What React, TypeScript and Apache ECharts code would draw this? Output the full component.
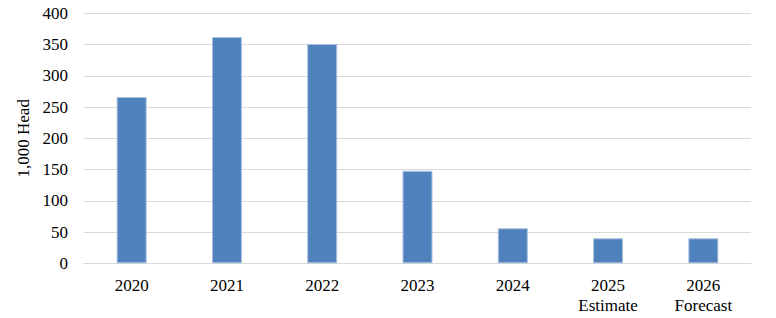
import React, { useEffect, useRef } from "react";
import * as echarts from "echarts";

const categories = ["2020", "2021", "2022", "2023", "2024", "2025\nEstimate", "2026\nForecast"];
const values = [266, 362, 351, 148, 56, 40, 40];
const yTicks = { min: 0, max: 400, interval: 50 };
const yAxisName = "1,000 Head";

export default function App() {
  const ref = useRef<HTMLDivElement>(null);
  useEffect(() => {
    if (!ref.current) return;
    const chart = echarts.init(ref.current, null, { renderer: "svg" });
    const font = "Liberation Serif";
    const t = { color: "#000", fontFamily: font, fontSize: 17, fontWeight: "normal" as const };
    chart.setOption({
      animation: false,
      backgroundColor: "#ffffff",
      textStyle: { fontFamily: font },
      grid: { left: 84, right: 25, top: 13.3, bottom: 54.7, containLabel: false },
      xAxis: {
        type: "category",
        data: categories,
        axisLine: { show: true, lineStyle: { color: "#d9d9d9", width: 1 } },
        axisTick: { show: false },
        axisLabel: { ...t, lineHeight: 20, margin: 12, interval: 0 },
      },
      yAxis: {
        type: "value",
        min: yTicks.min,
        max: yTicks.max,
        interval: yTicks.interval,
        name: yAxisName,
        nameLocation: "middle",
        nameGap: 47,
        nameRotate: 90,
        nameTextStyle: { ...t },
        axisLine: { show: false },
        axisTick: { show: false },
        axisLabel: { ...t, margin: 16 },
        splitLine: { show: true, lineStyle: { color: "#d9d9d9", width: 1 } },
      },
      series: [
        {
          type: "bar",
          data: values,
          barWidth: 30,
          itemStyle: { color: "#4F81BD", borderColor: "#a9c0de", borderWidth: 1 },
        },
      ],
    });
    return () => chart.dispose();
  }, []);
  return (
    <div
      ref={ref}
      style={{ position: "absolute", left: 0, top: 0, width: 776, height: 318 }}
    />
  );
}
